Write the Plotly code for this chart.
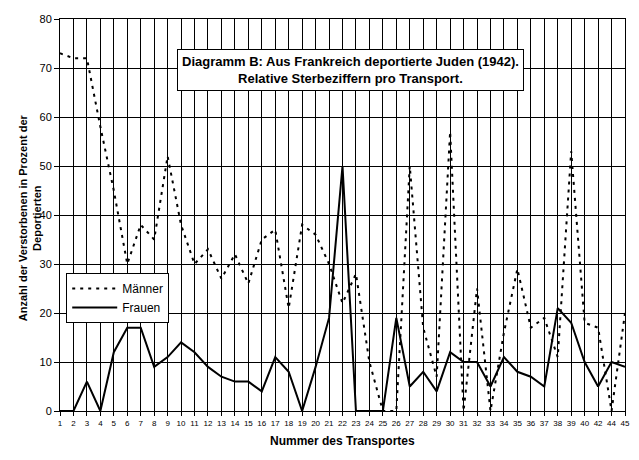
import plotly.graph_objects as go

# transport numbers (41 and 43 are missing in the source)
transporte = [str(i) for i in range(1, 41)] + ["42", "44", "45"]

maenner = [73, 72, 72, 58, 45, 30, 38, 35, 52, 38,
           30, 33, 27, 32, 26, 35, 37, 21, 38, 36,
           30, 22, 28, 10, 0, 0, 50, 17, 7, 57,
           0, 25, 0, 16, 29, 17, 19, 11, 53, 18,
           17, 0, 20]

frauen = [0, 0, 6, 0, 12, 17, 17, 9, 11, 14,
          12, 9, 7, 6, 6, 4, 11, 8, 0, 9,
          19, 50, 0, 0, 0, 19, 5, 8, 4, 12,
          10, 10, 5, 11, 8, 7, 5, 21, 18, 10,
          5, 10, 9]

y_ticks = list(range(0, 81, 10))

font = "Liberation Sans, Arial, sans-serif"

fig = go.Figure()
fig.add_trace(go.Scatter(x=transporte, y=maenner, mode="lines", name="Männer",
                         line=dict(color="black", width=2, dash="3px,5px")))
fig.add_trace(go.Scatter(x=transporte, y=frauen, mode="lines", name="Frauen",
                         line=dict(color="black", width=2)))

# the page puts the figure 8px in from the top-left corner, so margins are shifted
fig.update_layout(
    width=639, height=460,
    margin=dict(l=52, r=22, t=11, b=57, autoexpand=False),
    paper_bgcolor="white", plot_bgcolor="white",
    font=dict(family=font, color="black", size=11),
    showlegend=True,
    legend=dict(x=0.011, y=0.352, xanchor="left", yanchor="top",
                bgcolor="white", bordercolor="black", borderwidth=1,
                font=dict(size=12), tracegroupgap=0, itemwidth=45),
    annotations=[
        dict(text="<b>Diagramm B: Aus Frankreich deportierte Juden (1942).<br>"
                  "Relative Sterbeziffern pro Transport.</b>",
             xref="paper", yref="paper", x=0.515, y=0.87,
             xanchor="center", yanchor="middle",
             showarrow=False, align="center",
             bgcolor="white", bordercolor="black", borderwidth=1, borderpad=4,
             font=dict(size=13)),
        dict(text="<b>Anzahl der Verstorbenen in Prozent der<br>Deportierten</b>",
             xref="paper", yref="paper", x=-0.053, y=0.492,
             xanchor="center", yanchor="middle",
             textangle=-90, showarrow=False, align="center",
             font=dict(size=11)),
        dict(text="<b>Nummer des Transportes</b>",
             xref="paper", yref="paper", x=0.5, y=-0.0765,
             xanchor="center", yanchor="middle", showarrow=False,
             font=dict(size=12)),
    ],
)

fig.update_xaxes(
    type="category", range=[0, len(transporte) - 1], automargin=False,
    showgrid=True, gridcolor="black", gridwidth=1,
    showline=True, linecolor="black", linewidth=1, mirror=True,
    ticks="outside", ticklen=4, tickcolor="black",
    tickfont=dict(size=8), tickangle=0,
)
fig.update_yaxes(
    range=[0, 80], tickvals=y_ticks, automargin=False,
    showgrid=True, gridcolor="black", gridwidth=1, zeroline=False,
    showline=True, linecolor="black", linewidth=1, mirror=True,
    ticks="outside", ticklen=5, tickcolor="black",
    tickfont=dict(size=11),
)

fig.write_html("out.html")
